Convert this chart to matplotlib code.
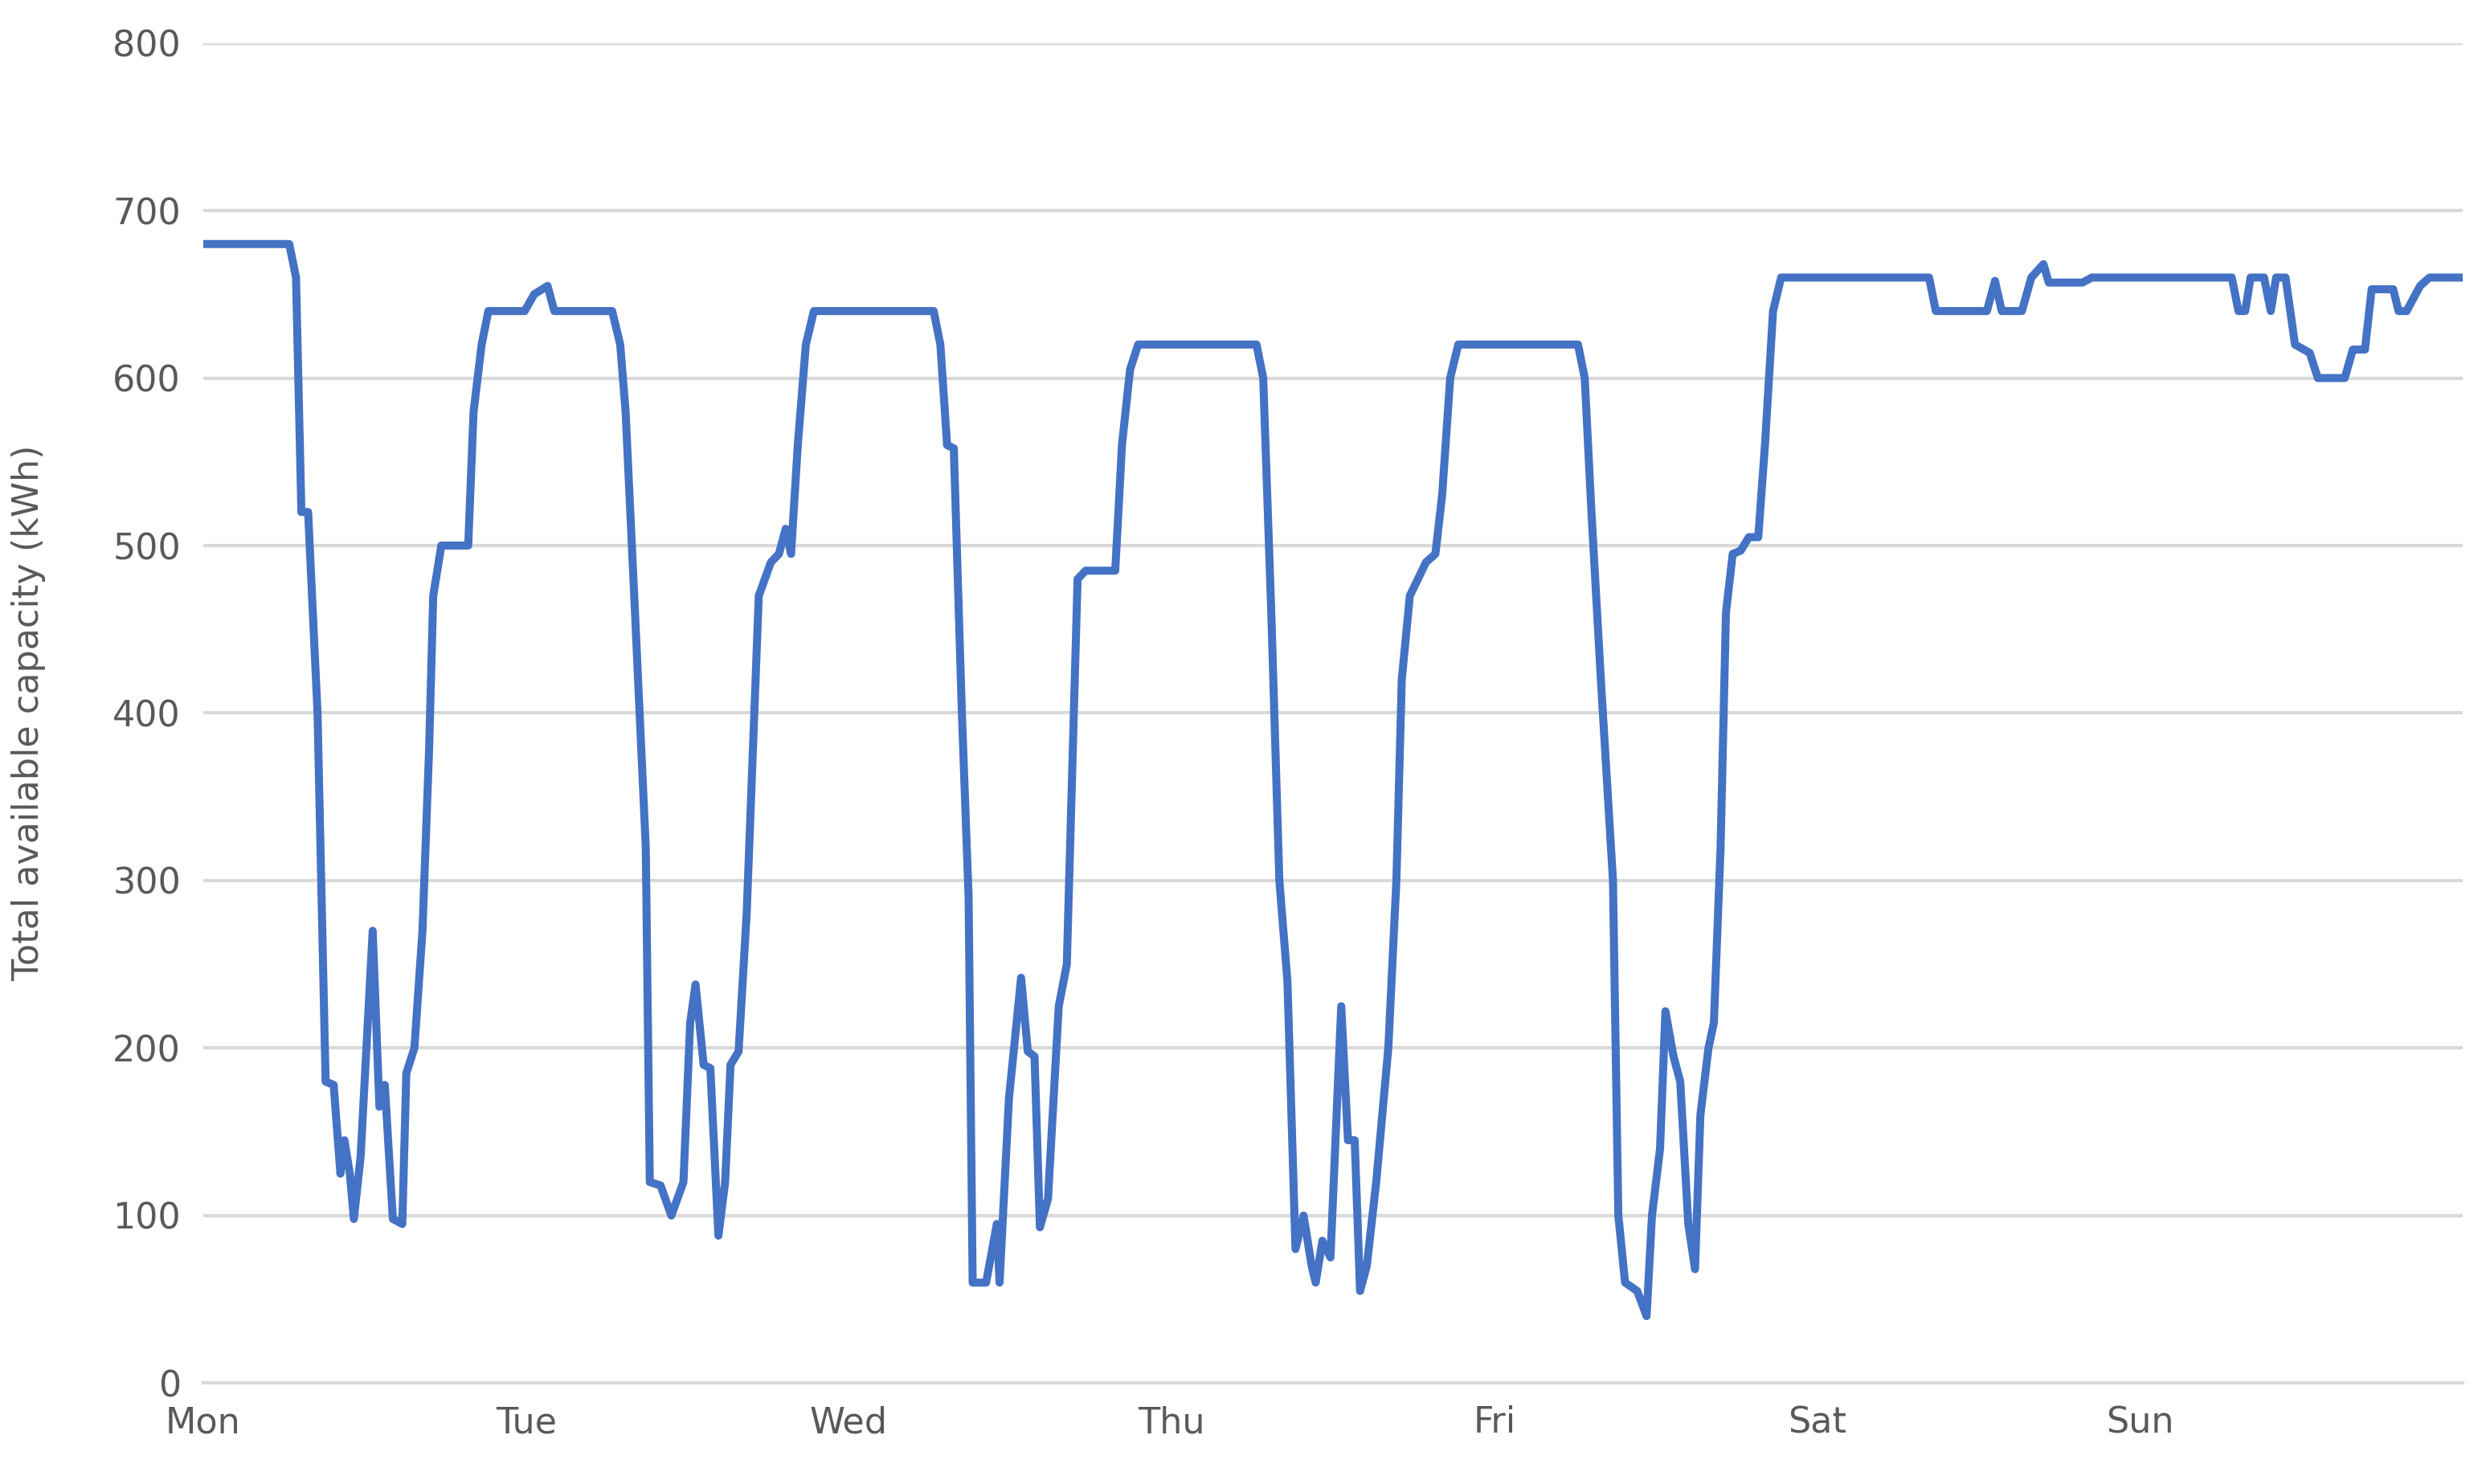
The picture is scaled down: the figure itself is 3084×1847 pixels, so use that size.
import numpy as np
import matplotlib
matplotlib.use("Agg")
import matplotlib.pyplot as plt

# time in hours from Monday 00:00, available capacity in kWh
hours = [0, 6.4, 6.9, 7.3, 7.8, 8.5, 9.1, 9.7, 10.2, 10.5, 10.9, 11.2, 11.7, 12.2, 12.6,
         13.1, 13.5, 14.1, 14.8, 15.1, 15.7, 16.3, 16.8, 17.1, 17.7, 19.7, 20.1, 20.7, 21.2,
         23.9, 24.6, 25.6, 26.1, 30.4, 31.0, 31.4, 32.1, 32.9, 33.2, 34.0, 34.8, 35.7, 36.2,
         36.6, 37.2, 37.7, 38.3, 38.8, 39.2, 39.8, 40.4, 41.3, 42.2, 42.8, 43.3, 43.7, 44.2,
         44.8, 45.4, 54.3, 54.8, 55.3, 55.8, 56.4, 56.9, 57.2, 58.2, 59.0, 59.2, 59.9, 60.8,
         61.3, 61.8, 62.2, 62.8, 63.6, 64.2, 65.0, 65.6, 67.8, 68.3, 68.9, 69.5, 78.3, 78.8,
         79.4, 80.0, 80.6, 81.2, 81.8, 82.4, 82.7, 83.2, 83.8, 84.6, 85.1, 85.6, 86.0, 86.5,
         87.2, 88.1, 88.7, 89.1, 89.7, 90.3, 90.9, 91.6, 92.1, 92.7, 93.3, 102.2, 102.7,
         103.2, 103.9, 104.8, 105.2, 105.7, 106.6, 107.3, 107.7, 108.3, 108.7, 109.3, 109.8,
         110.4, 110.9, 111.3, 111.9, 112.3, 112.8, 113.2, 113.7, 114.3, 114.9, 115.6, 116.1,
         116.7, 117.3, 128.3, 128.8, 132.6, 133.2, 133.7, 135.2, 135.9, 136.8, 137.2, 139.7,
         140.4, 150.8, 151.3, 151.8, 152.2, 153.2, 153.7, 154.1, 154.8, 155.5, 156.6, 157.2,
         159.2, 159.8, 160.7, 161.2, 162.8, 163.2, 163.8, 164.8, 165.5, 168.0]
capacity = [680, 680, 660, 520, 520, 400, 180, 178, 125, 145, 125, 98, 135, 210, 270,
            165, 178, 98, 95, 185, 200, 270, 380, 470, 500, 500, 580, 620, 640,
            640, 650, 655, 640, 640, 620, 580, 460, 320, 120, 118, 100, 120, 215,
            238, 190, 188, 88, 120, 190, 198, 280, 470, 490, 495, 510, 495, 560,
            620, 640, 640, 620, 560, 558, 400, 290, 60, 60, 95, 60, 170, 242,
            198, 195, 93, 110, 225, 250, 480, 485, 485, 560, 605, 620, 620, 600,
            460, 300, 240, 80, 100, 70, 60, 85, 75, 225, 145, 145, 55, 70,
            120, 200, 300, 420, 470, 480, 490, 495, 530, 600, 620, 620, 600,
            520, 420, 300, 100, 60, 55, 40, 100, 140, 222, 195, 180,
            95, 68, 160, 200, 215, 320, 460, 495, 497, 505, 505, 560,
            640, 660, 660, 640, 640, 658, 640, 640, 660, 668, 657, 657,
            660, 660, 640, 640, 660, 660, 640, 660, 660, 620, 615, 600,
            600, 617, 617, 653, 653, 640, 640, 655, 660, 660]
days = ["Mon", "Tue", "Wed", "Thu", "Fri", "Sat", "Sun"]

grey = "#595959"
fig = plt.figure(figsize=(15.42, 9.235), dpi=200)
ax = fig.add_axes([0.082, 0.068, 0.912, 0.903])
ax.plot(hours, capacity, color="#4472C4", lw=3.6, solid_joinstyle="round")

ax.set_xlim(0, 168)
ax.set_ylim(0, 800)
ax.set_yticks(np.arange(0, 801, 100))
ax.set_xticks(np.arange(len(days)) * 24)
ax.set_xticklabels(days)
ax.grid(axis="y", color="#D9D9D9", lw=1.5)
ax.set_axisbelow(True)
for s in ["top", "right", "left"]:
    ax.spines[s].set_visible(False)
ax.spines["bottom"].set_color("#D9D9D9")
ax.spines["bottom"].set_linewidth(1.5)
ax.tick_params(length=0, labelsize=16, colors=grey, pad=10)
ax.set_ylabel("Total available capacity (kWh)", fontsize=16, color=grey, labelpad=30)

fig.savefig("out.png", dpi=200)
